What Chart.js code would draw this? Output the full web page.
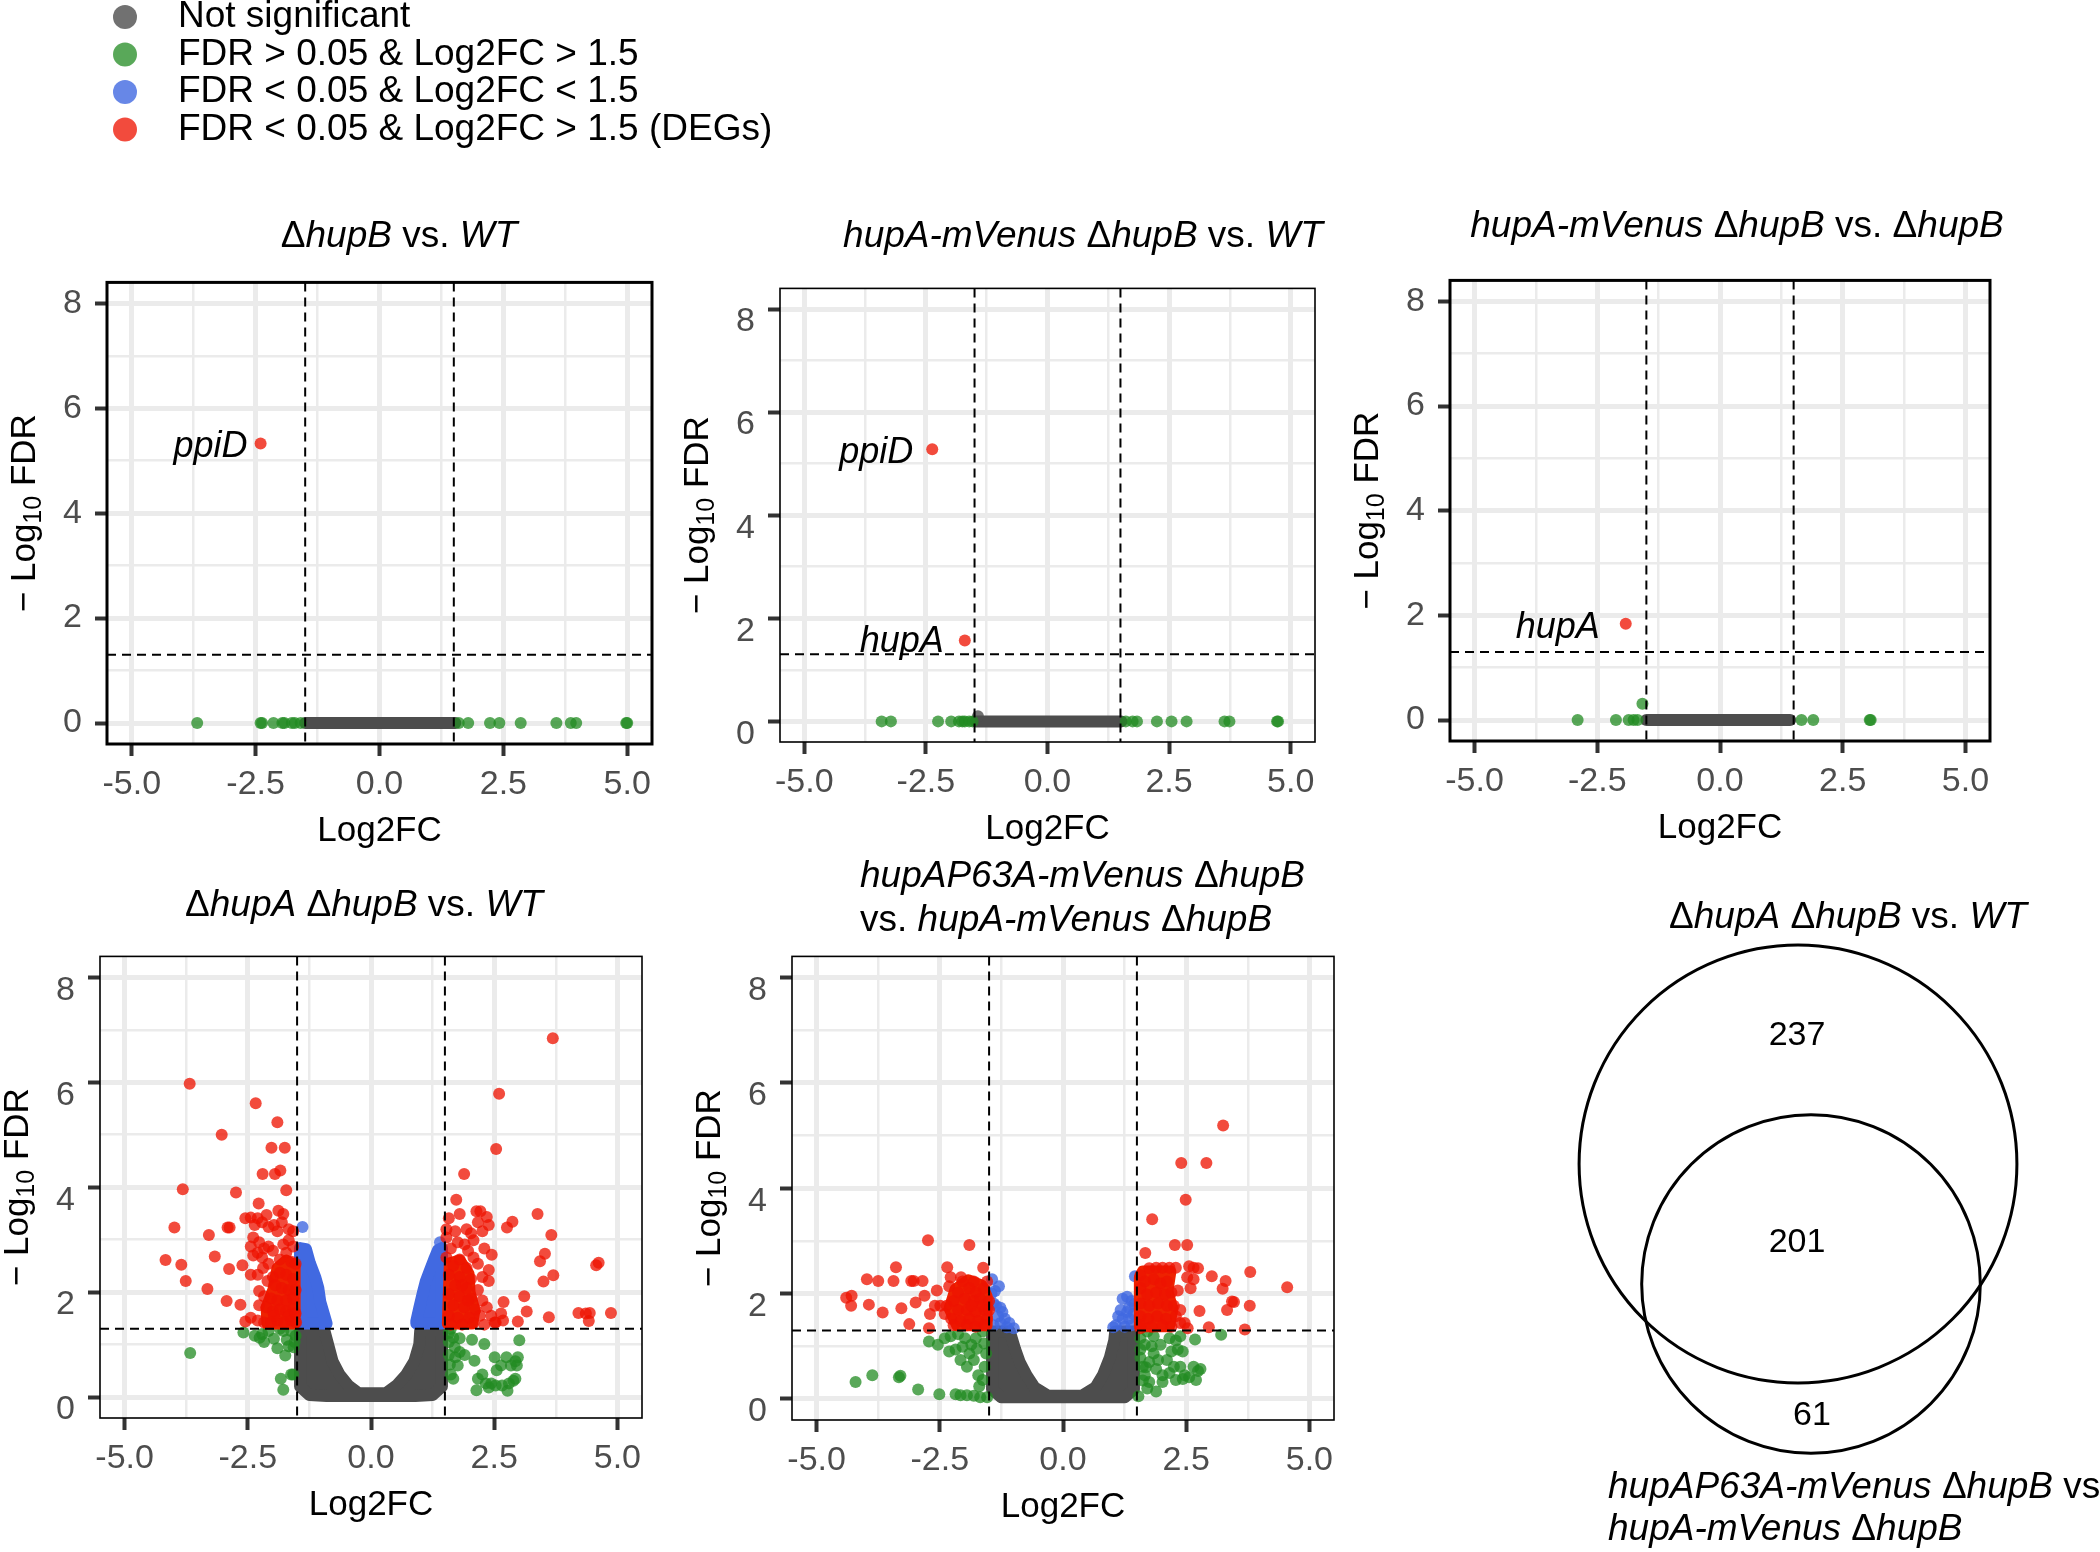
<!DOCTYPE html>
<html>
<head>
<meta charset="utf-8">
<title>Volcano plots</title>
<script src="https://cdn.jsdelivr.net/npm/chart.js@4"></script>
<style>
  html, body { margin: 0; padding: 0; background: #fff; }
  #page { position: relative; width: 2100px; height: 1552px; overflow: hidden; background: #fff; }
  #page canvas { position: absolute; }
  #overlay { left: 0; top: 0; z-index: 5; }
</style>
</head>
<body>
<div id="page"><canvas id="overlay" width="2100" height="1552"></canvas></div>
<script>
// ---------- data ----------
const categories = ['Not significant', 'FDR > 0.05 & Log2FC > 1.5', 'FDR < 0.05 & Log2FC < 1.5', 'FDR < 0.05 & Log2FC > 1.5 (DEGs)'];
const xTicksMajor = [-5, -2.5, 0, 2.5, 5];
const xTicksMinor = [-3.75, -1.25, 1.25, 3.75];
const yTicksMajor = [0, 2, 4, 6, 8];
const yTicksMinor = [1, 3, 5, 7];
const fcCut = 1.5;
const fdrCut = 1.301; // -log10(0.05)

// panel 1: ΔhupB vs. WT
const p1Band = [[-1.50, 0], [1.53, 0]]; // thousands of overlapping non-significant genes
const p1Green = [[-3.68,0],[-2.40,0],[-2.37,0],[-2.14,0],[-1.96,0],[-1.92,0],[-1.77,0],[-1.71,0],[-1.59,0],[1.60,0],[1.79,0],[2.23,0],[2.42,0],[2.85,0],[3.57,0],[3.86,0],[3.97,0],[4.98,0],[5.0,0]];
const p1Red = [[-2.40, 5.33]];
const p1Labels = [['ppiD', -2.40, 5.33]];

// panel 2: hupA-mVenus ΔhupB vs. WT
const p2Band = [[-1.48, 0], [1.52, 0]];
const p2Gray = [[-1.43, 0.1]];
const p2Green = [[-3.41,0],[-3.22,0],[-2.25,0],[-1.98,0],[-1.82,0],[-1.75,0],[-1.70,0],[-1.61,0],[-1.54,0],[1.61,0],[1.75,0],[1.84,0],[2.25,0],[2.55,0],[2.86,0],[3.64,0],[3.74,0],[4.72,0],[4.74,0]];
const p2Red = [[-2.37, 5.28], [-1.70, 1.57]];
const p2Labels = [['ppiD', -2.37, 5.28], ['hupA', -1.70, 1.57]];

// panel 3: hupA-mVenus ΔhupB vs. ΔhupB
const p3Band = [[-1.50, 0], [1.43, 0]];
const p3Green = [[-2.90,0],[-2.12,0],[-1.86,0],[-1.76,0],[-1.68,0],[-1.58,0.31],[1.66,0],[1.90,0],[3.05,0],[3.07,0]];
const p3Red = [[-1.92, 1.84]];
const p3Labels = [['hupA', -1.92, 1.84]];

// panel 4: ΔhupA ΔhupB vs. WT
const p4GrayCloud = [[-1.44,1.28],[-0.95,1.28],[-0.87,1.00],[-0.78,0.68],[-0.64,0.43],[-0.46,0.22],[-0.25,0.07],[0.30,0.07],[0.52,0.22],[0.72,0.43],[0.88,0.68],[0.98,1.00],[1.00,1.28],[1.44,1.28],[1.44,0.20],[1.25,0.04],[0.90,0.02],[-0.90,0.02],[-1.25,0.04],[-1.44,0.20],[-1.44,1.28]];
const p4BlueCloudL = [[-1.44,1.40],[-1.44,2.84],[-1.32,2.82],[-1.24,2.55],[-1.13,2.28],[-1.07,2.08],[-1.03,1.82],[-0.95,1.56],[-0.90,1.40],[-1.44,1.40]];
const p4BlueCloudR = [[1.44,1.40],[1.44,2.84],[1.36,2.80],[1.28,2.62],[1.19,2.40],[1.11,2.20],[1.05,1.98],[0.98,1.70],[0.92,1.45],[0.92,1.40],[1.44,1.40]];
const p4Blue = [[-1.39,3.24],[1.40,2.95]];
const p4RedCloudL = [[-1.55,1.40],[-2.10,1.40],[-2.12,1.70],[-1.98,2.05],[-1.90,2.45],[-1.72,2.60],[-1.55,2.50],[-1.55,1.40]];
const p4RedCloudR = [[1.56,1.40],[2.05,1.40],[2.10,1.65],[2.00,2.00],[1.98,2.35],[1.80,2.60],[1.60,2.55],[1.56,1.40]];
const p4Red = [
  [-3.68,5.97],[-2.34,5.60],[-1.90,5.24],[-3.03,5.00],[-2.02,4.75],[-1.75,4.75],[-1.84,4.32],[-2.20,4.25],[-1.95,4.25],[-3.82,3.96],[-2.74,3.90],[-1.72,3.94],[-2.28,3.69],[-3.99,3.23],[-3.29,3.09],[-2.91,3.23],[-2.87,3.23],[-3.17,2.68],[-4.17,2.61],[-3.85,2.52],[-2.88,2.44],[-2.61,2.51],[-3.76,2.21],[-3.32,2.06],[-2.93,1.83],[-2.65,1.76],
  [-2.55,3.41],[-2.44,3.42],[-2.30,3.41],[-2.36,3.28],[-2.21,3.33],[-2.12,3.47],[-1.88,3.55],[-1.78,3.49],[-1.81,3.33],[-1.97,3.28],[-2.08,3.24],[-1.67,3.20],[-1.58,3.16],[-1.90,3.16],[-2.39,3.04],[-2.27,2.95],[-2.44,2.87],[-2.17,2.83],[-2.08,2.87],[-1.99,2.79],[-2.30,2.75],[-2.39,2.70],[-2.21,2.66],[-1.78,2.91],[-1.67,2.99],[-1.58,2.87],[-1.72,2.75],[-1.85,2.62],[-1.62,2.58],[-1.53,2.54],[-2.08,2.54],[-2.19,2.46],[-2.44,2.33],[-2.30,2.33],[-1.99,2.29],[-1.85,2.37],[-1.72,2.33],[-1.58,2.25],[-2.10,2.21],[-1.94,2.13],[-1.81,2.08],[-1.67,2.04],[-1.53,2.04],[-2.27,2.02],[-2.17,1.92],[-2.03,1.88],[-1.90,1.84],[-1.72,1.84],[-1.58,1.88],[-2.27,1.75],[-2.12,1.71],[-1.99,1.63],[-1.85,1.67],[-1.72,1.63],[-1.58,1.67],[-2.44,1.51],[-2.30,1.46],[-2.17,1.42],[-2.03,1.42],[-1.90,1.46],[-1.76,1.42],[-1.62,1.46],[-1.52,1.42],[-1.97,1.55],[-1.67,1.55],[-1.53,1.59],[-2.55,1.44],
  [3.69,6.84],[2.60,5.78],[2.54,4.73],[1.89,4.25],[1.73,3.76],[1.80,3.49],[3.38,3.49],[2.87,3.34],[2.76,3.23],[3.66,3.09],[2.45,2.71],[3.53,2.73],[3.43,2.59],[4.57,2.51],[4.62,2.56],[3.70,2.32],[3.50,2.20],[3.11,1.92],[2.69,1.81],[3.16,1.63],[2.64,1.59],[3.61,1.52],[2.98,1.44],[4.21,1.60],[4.36,1.59],[4.44,1.60],[4.42,1.45],[4.87,1.60],[2.53,1.42],[2.68,1.46],
  [1.53,3.20],[1.53,3.04],[1.58,3.41],[1.71,3.16],[1.94,3.20],[2.03,3.12],[2.14,3.54],[2.22,3.54],[2.35,3.43],[2.39,3.28],[2.26,3.16],[2.17,3.33],[2.08,2.99],[1.90,2.91],[1.76,2.95],[1.62,2.83],[1.53,2.66],[1.97,2.79],[2.30,2.83],[2.08,2.66],[1.80,2.62],[1.67,2.50],[1.94,2.46],[2.17,2.54],[2.39,2.42],[1.58,2.33],[1.80,2.29],[2.03,2.25],[2.26,2.29],[1.71,2.13],[1.94,2.08],[2.17,2.04],[2.39,2.21],[1.58,1.96],[1.80,1.92],[2.03,1.88],[2.26,1.84],[1.67,1.75],[1.89,1.71],[2.12,1.67],[2.35,1.71],[1.58,1.55],[1.76,1.51],[1.99,1.51],[2.21,1.55],[2.44,1.55],[1.62,1.38],[1.85,1.38],[2.08,1.41],[2.30,1.38],[2.51,1.42],[1.85,2.13],[1.97,1.84]
];
const p4Green = [
  [-3.67,0.84],[-2.59,1.23],[-2.36,1.17],[-2.26,1.13],[-2.17,1.05],[-2.08,1.26],[-1.97,1.11],[-1.85,1.30],[-1.78,1.26],[-1.71,1.09],[-1.67,0.97],[-1.90,0.93],[-1.74,0.79],[-1.58,0.43],[-1.62,0.43],[-1.83,0.35],[-1.78,0.14],[-1.62,1.26],[-1.53,1.17],[-2.21,1.20],[-1.57,0.95],[-1.55,1.05],
  [1.62,1.30],[1.67,1.13],[1.58,1.05],[1.80,1.12],[2.05,1.09],[2.30,1.01],[3.01,1.08],[1.58,0.80],[1.71,0.76],[1.80,0.86],[1.90,0.80],[2.10,0.69],[1.76,0.60],[1.62,0.43],[1.67,0.35],[2.17,0.35],[2.26,0.43],[2.14,0.13],[2.33,0.26],[2.44,0.26],[2.55,0.51],[2.51,0.76],[2.64,0.60],[2.75,0.76],[2.84,0.60],[2.93,0.68],[2.98,0.76],[2.96,0.60],[2.53,0.22],[2.66,0.22],[2.80,0.26],[2.77,0.12],[2.89,0.31],[2.93,0.35],[2.39,0.18],[1.58,1.22],[1.70,0.95],[1.60,0.62]
];

// panel 5: hupAP63A-mVenus ΔhupB vs. hupA-mVenus ΔhupB
const p5GrayCloud = [[-1.44,1.28],[-1.08,1.28],[-0.97,0.94],[-0.88,0.70],[-0.74,0.45],[-0.58,0.22],[-0.30,0.06],[0.38,0.06],[0.66,0.22],[0.81,0.45],[0.95,0.78],[1.04,1.11],[1.06,1.28],[1.44,1.28],[1.44,0.18],[1.25,0.03],[-1.25,0.03],[-1.44,0.18],[-1.44,1.28]];
const p5Blue = [
  [-1.44,2.27],[-1.30,2.14],[-1.36,1.77],[-1.27,1.73],[-1.23,1.65],[-1.18,1.52],[-1.09,1.44],[-1.27,1.44],[-1.00,1.34],[-1.41,1.40],[-1.14,1.36],[-1.32,1.57],[-1.41,1.81],[-1.45,2.00],[-1.38,2.05],
  [1.21,1.90],[1.30,1.94],[1.46,2.33],[1.34,1.73],[1.12,1.57],[1.21,1.52],[1.34,1.52],[1.07,1.40],[1.25,1.37],[1.39,1.40],[1.43,1.61],[1.30,1.65],[1.39,1.86],[1.17,1.69],[1.02,1.36],[1.45,1.80]
];
const p5RedCloudL = [[-1.55,1.40],[-2.15,1.40],[-2.30,1.72],[-2.18,2.08],[-1.92,2.25],[-1.65,2.15],[-1.55,1.95],[-1.55,1.40]];
const p5RedCloudR = [[1.56,1.38],[2.15,1.38],[2.22,1.70],[2.12,2.05],[2.18,2.42],[1.62,2.42],[1.56,2.30],[1.56,1.38]];
const p5Red = [
  [3.25,5.19],[2.40,4.48],[2.91,4.48],[2.49,3.78],[1.81,3.41],[2.27,2.92],[2.52,2.92],[1.67,2.77],[3.80,2.41],[3.02,2.33],[3.30,2.24],[4.55,2.12],[3.24,2.09],[3.47,1.84],[3.43,1.85],[3.79,1.77],[3.33,1.69],[2.77,1.67],[2.47,1.44],[2.53,1.34],[2.96,1.36],[3.69,1.32],[2.59,2.10],[2.56,2.52],[2.65,2.49],[2.74,2.48],[2.52,2.31],[2.65,2.27],
  [-2.74,3.01],[-1.90,2.92],[-3.39,2.50],[-2.35,2.50],[-1.62,2.49],[-3.98,2.27],[-3.75,2.24],[-3.44,2.24],[-3.08,2.24],[-3.03,2.24],[-2.85,2.24],[-2.56,2.06],[-2.81,1.96],[-2.99,1.83],[-4.40,1.92],[-4.29,1.96],[-4.30,1.77],[-3.94,1.79],[-3.28,1.72],[-3.66,1.64],[-3.12,1.42],[-2.72,1.34],[-2.70,1.61],
  [-2.31,2.14],[-2.28,2.31],[-2.07,2.31],[-2.04,2.23],[-1.81,2.23],[-1.90,2.10],[-1.77,2.02],[-2.13,2.02],[-2.49,1.77],[-2.60,1.77],[-2.36,1.77],[-2.22,1.86],[-1.99,1.90],[-1.81,1.86],[-1.68,1.90],[-1.61,2.10],[-1.54,2.23],[-2.13,1.69],[-1.95,1.69],[-1.77,1.65],[-1.59,1.69],[-2.40,1.61],[-2.27,1.52],[-2.08,1.48],[-1.90,1.52],[-1.72,1.48],[-1.54,1.52],[-2.22,1.40],[-1.95,1.40],[-1.77,1.37],[-1.59,1.40],[-1.63,1.77],[-1.86,1.77],[-1.50,1.86],[-1.50,1.69],
  [1.75,2.48],[1.89,2.49],[2.02,2.49],[2.16,2.49],[2.29,2.49],[1.57,2.35],[1.66,2.23],[1.84,2.27],[1.98,2.19],[2.11,2.23],[1.57,2.10],[1.71,1.98],[1.89,2.02],[2.07,1.98],[2.20,2.02],[1.57,1.81],[1.75,1.77],[1.93,1.81],[2.11,1.77],[2.25,1.77],[1.57,1.57],[1.73,1.52],[1.91,1.57],[2.09,1.52],[2.29,1.57],[1.57,1.40],[1.80,1.37],[2.02,1.40],[2.20,1.37],[2.38,1.69],[2.38,1.44],[1.57,1.34],[2.33,2.06]
];
const p5Green = [
  [-4.21,0.32],[-3.87,0.45],[-3.33,0.41],[-3.30,0.44],[-2.94,0.18],[-2.51,0.09],[-2.18,0.09],[-2.08,0.07],[-1.95,0.07],[-1.81,0.06],[-1.68,0.03],[-1.54,0.03],
  [-2.72,1.09],[-2.54,1.03],[-2.40,1.15],[-2.28,1.19],[-2.13,1.23],[-1.99,1.15],[-1.86,1.03],[-1.77,1.15],[-1.63,1.28],[-2.31,0.90],[-2.18,0.94],[-2.04,0.99],[-2.08,0.74],[-1.95,0.61],[-1.81,0.74],[-1.72,0.45],[-1.63,0.36],[-1.59,0.61],[-1.56,0.86],[-1.70,0.24],[-1.90,0.86],[-1.60,1.05],[-1.75,0.95],
  [3.21,1.22],[2.68,1.13],[1.53,0.05],[1.89,0.14],[1.75,0.32],[1.66,0.45],[1.62,0.61],[1.57,0.78],[1.57,0.94],[1.57,1.15],[1.71,1.28],[1.84,1.19],[1.98,1.03],[1.84,0.86],[1.75,0.70],[1.89,0.57],[2.02,0.45],[2.16,0.49],[2.25,0.61],[2.20,0.90],[2.11,0.74],[2.29,1.11],[2.38,1.19],[2.33,0.94],[2.43,0.90],[2.38,0.61],[2.47,0.45],[2.56,0.41],[2.65,0.61],[2.74,0.53],[2.79,0.57],[2.70,0.36],[2.43,0.38],[2.29,0.36],[2.02,0.32],[1.71,0.20],[1.93,0.74],[1.66,1.03],[2.16,1.15],[1.62,0.35],[1.68,0.60],[1.80,1.00]
];

// Venn: DEG counts per region
const vennSets = ['ΔhupA ΔhupB vs. WT', 'hupAP63A-mVenus ΔhupB vs. hupA-mVenus ΔhupB'];
const vennRegionCounts = [237, 201, 61]; // only set 1, both, only set 2

// ---------- drawing ----------
const FONT = '"Liberation Sans", Arial, Helvetica, sans-serif';
Chart.defaults.font.family = FONT;
const AX_W = 120, AX_H = 110, PAD_T = 30, PAD_R = 40;
const page = document.getElementById('page');

const COL = {
  gray: 'rgba(77,77,77,0.8)', grayDense: '#4d4d4d',
  green: 'rgba(34,139,34,0.75)',
  blue: 'rgba(65,105,225,0.8)', blueDense: '#4169e1',
  red: 'rgba(238,18,0,0.76)', redDense: '#ee2200'
};
const legendColors = [COL.gray, COL.green, COL.blue, COL.red];

const xy = arr => arr.map(p => ({x: p[0], y: p[1]}));

function cloud(points, color, order, filled) {
  return {type: 'line', data: xy(points), showLine: true, fill: filled ? 'shape' : false,
    backgroundColor: color, borderColor: color, borderWidth: 12,
    borderJoinStyle: 'round', borderCapStyle: 'round', pointRadius: 0, tension: 0, order};
}
function dots(points, color, order) {
  return {type: 'scatter', data: xy(points), backgroundColor: color, borderWidth: 0,
    pointBorderWidth: 0, pointRadius: 6, order};
}

const isIn = (list, v) => list.some(t => Math.abs(t - v) < 1e-9);

function axisX() {
  return {
    type: 'linear', min: -5.5, max: 5.5,
    afterBuildTicks: s => { s.ticks = xTicksMajor.concat(xTicksMinor).sort((a, b) => a - b).map(v => ({value: v})); },
    afterFit: s => { s.height = AX_H; },
    ticks: {autoSkip: false, maxRotation: 0, padding: 8, color: '#4d4d4d', font: {size: 34},
      callback: v => isIn(xTicksMajor, v) ? v.toFixed(1) : ''},
    grid: {color: '#ebebeb', lineWidth: c => isIn(xTicksMajor, c.tick.value) ? 5 : 2.5,
      tickColor: c => isIn(xTicksMajor, c.tick.value) ? '#333' : 'rgba(0,0,0,0)', tickWidth: 4, tickLength: 12},
    border: {display: false}
  };
}
function axisY(labelOffset) {
  return {
    type: 'linear', min: -0.4, max: 8.4,
    afterBuildTicks: s => { s.ticks = yTicksMajor.concat(yTicksMinor).sort((a, b) => a - b).map(v => ({value: v})); },
    afterFit: s => { s.width = AX_W; },
    ticks: {autoSkip: false, padding: 13, labelOffset, color: '#4d4d4d', font: {size: 34},
      callback: v => isIn(yTicksMajor, v) ? String(v) : ''},
    grid: {color: '#ebebeb', lineWidth: c => isIn(yTicksMajor, c.tick.value) ? 5 : 2.5,
      tickColor: c => isIn(yTicksMajor, c.tick.value) ? '#333' : 'rgba(0,0,0,0)', tickWidth: 4, tickLength: 12},
    border: {display: false}
  };
}

function drawSegs(ctx, segs, x, y, align) {
  // segs: [text, italic, size, dy]
  let w = 0;
  segs.forEach(s => { ctx.font = (s[1] ? 'italic ' : '') + s[2] + 'px ' + FONT; w += ctx.measureText(s[0]).width; });
  let cx = align === 'center' ? x - w / 2 : x;
  ctx.textAlign = 'left';
  segs.forEach(s => {
    ctx.font = (s[1] ? 'italic ' : '') + s[2] + 'px ' + FONT;
    ctx.fillText(s[0], cx, y + (s[3] || 0));
    cx += ctx.measureText(s[0]).width;
  });
}

function decor(p) {
  return {
    id: 'decor',
    afterDatasetsDraw(chart) {
      const {ctx, chartArea: a} = chart;
      const x = chart.scales.x, y = chart.scales.y;
      ctx.save();
      ctx.strokeStyle = '#000';
      ctx.lineWidth = 2;
      ctx.setLineDash([9, 6]);
      ctx.beginPath();
      [-fcCut, fcCut].forEach(v => { const px = x.getPixelForValue(v); ctx.moveTo(px, a.top); ctx.lineTo(px, a.bottom); });
      const py = y.getPixelForValue(fdrCut);
      ctx.moveTo(a.left, py); ctx.lineTo(a.right, py);
      ctx.stroke();
      ctx.setLineDash([]);
      ctx.fillStyle = '#000';
      ctx.font = 'italic 36px ' + FONT;
      ctx.textAlign = 'right';
      ctx.textBaseline = 'middle';
      (p.labels || []).forEach((l, i) => {
        const s = p.labelShift[i];
        ctx.fillText(l[0], x.getPixelForValue(l[1]) + s[0], y.getPixelForValue(l[2]) + s[1]);
      });
      ctx.lineWidth = p.border;
      ctx.strokeRect(a.left, a.top, a.right - a.left, a.bottom - a.top);
      // axis titles
      ctx.font = '35px ' + FONT;
      ctx.textAlign = 'center';
      ctx.fillText('Log2FC', (a.left + a.right) / 2, a.bottom + 87);
      ctx.translate(a.left - 82, (a.top + a.bottom) / 2);
      ctx.rotate(-Math.PI / 2);
      drawSegs(ctx, [['\u2212 Log', 0, 35], ['10', 0, 25, 9], [' FDR', 0, 35]], 0, 0, 'center');
      ctx.restore();
    }
  };
}

function volcano(p) {
  const f = p.frame;
  const cv = document.createElement('canvas');
  const W = f.r - f.l + AX_W + PAD_R, H = f.b - f.t + PAD_T + AX_H;
  cv.width = W; cv.height = H;
  cv.style.left = (f.l - AX_W) + 'px';
  cv.style.top = (f.t - PAD_T) + 'px';
  cv.style.width = W + 'px';
  cv.style.height = H + 'px';
  page.insertBefore(cv, document.getElementById('overlay'));
  const ds = [];
  if (p.band) ds.push(cloud(p.band, COL.grayDense, 20, false));
  if (p.grayCloud) ds.push(cloud(p.grayCloud, COL.grayDense, 20, true));
  if (p.gray) ds.push(dots(p.gray, COL.gray, 19));
  ds.push(dots(p.green, COL.green, 18));
  (p.blueClouds || []).forEach(c => ds.push(cloud(c, COL.blueDense, 17, true)));
  if (p.blue) ds.push(dots(p.blue, COL.blue, 16));
  (p.redClouds || []).forEach(c => ds.push(cloud(c, COL.redDense, 15, true)));
  ds.push(dots(p.red, COL.red, 14));
  new Chart(cv, {
    type: 'scatter',
    data: {datasets: ds},
    options: {
      responsive: false, animation: false, devicePixelRatio: 1, events: [],
      layout: {padding: {left: 0, top: PAD_T, right: PAD_R, bottom: 0}},
      plugins: {legend: {display: false}, tooltip: {enabled: false}},
      scales: {x: axisX(), y: axisY(p.yLabelOffset)}
    },
    plugins: [decor(p)]
  });
}

volcano({frame: {l: 107, t: 279, r: 652, b: 744}, border: 3, yLabelOffset: 0,
  band: p1Band, green: p1Green, red: p1Red, labels: p1Labels, labelShift: [[-13, 4]]});
volcano({frame: {l: 780, t: 285, r: 1315, b: 742}, border: 1.6, yLabelOffset: 13,
  band: p2Band, gray: p2Gray, green: p2Green, red: p2Red, labels: p2Labels, labelShift: [[-19, 4], [-21, 2]]});
volcano({frame: {l: 1450, t: 277, r: 1990, b: 741}, border: 3, yLabelOffset: 0,
  band: p3Band, green: p3Green, red: p3Red, labels: p3Labels, labelShift: [[-26, 4]]});
volcano({frame: {l: 100, t: 953, r: 642, b: 1418}, border: 1.6, yLabelOffset: 13,
  grayCloud: p4GrayCloud, green: p4Green, blueClouds: [p4BlueCloudL, p4BlueCloudR], blue: p4Blue,
  redClouds: [p4RedCloudL, p4RedCloudR], red: p4Red});
volcano({frame: {l: 792, t: 953, r: 1334, b: 1420}, border: 1.6, yLabelOffset: 13,
  grayCloud: p5GrayCloud, green: p5Green, blue: p5Blue,
  redClouds: [p5RedCloudL, p5RedCloudR], red: p5Red});

// Venn diagram: circle areas proportional to set sizes
const vennBox = {left: 1540, top: 900, width: 560, height: 600};
const vennCenters = [[1798, 1164], [1811, 1284]];
const vennK = 10.46;
const setTotals = [vennRegionCounts[0] + vennRegionCounts[1], vennRegionCounts[1] + vennRegionCounts[2]];
(function () {
  const cv = document.createElement('canvas');
  cv.width = vennBox.width; cv.height = vennBox.height;
  cv.style.left = vennBox.left + 'px'; cv.style.top = vennBox.top + 'px';
  cv.style.width = vennBox.width + 'px'; cv.style.height = vennBox.height + 'px';
  page.insertBefore(cv, document.getElementById('overlay'));
  new Chart(cv, {
    type: 'bubble',
    data: {datasets: setTotals.map((t, i) => ({
      data: [{x: vennCenters[i][0] - vennBox.left, y: vennCenters[i][1] - vennBox.top, r: vennK * Math.sqrt(t)}],
      backgroundColor: 'rgba(0,0,0,0)', borderColor: '#000', borderWidth: 3, clip: false
    }))},
    options: {
      responsive: false, animation: false, devicePixelRatio: 1, events: [],
      layout: {padding: 0, autoPadding: false},
      plugins: {legend: {display: false}, tooltip: {enabled: false}},
      scales: {
        x: {type: 'linear', min: 0, max: vennBox.width, display: false},
        y: {type: 'linear', min: 0, max: vennBox.height, reverse: true, display: false}
      }
    }
  });
})();

// ---------- overlay texts: legend, titles, Venn labels ----------
(function () {
  const ctx = document.getElementById('overlay').getContext('2d');
  ctx.textBaseline = 'middle';
  const rowY = [17, 54.5, 92, 129.5];
  categories.forEach((c, i) => {
    ctx.fillStyle = legendColors[i];
    ctx.beginPath(); ctx.arc(125, rowY[i], 12, 0, Math.PI * 2); ctx.fill();
    ctx.fillStyle = '#000';
    ctx.font = '37px ' + FONT;
    ctx.textAlign = 'left';
    ctx.fillText(c, 178, rowY[i]);
  });
  ctx.fillStyle = '#000';
  const T = 37;
  drawSegs(ctx, [['Δ', 0, T], ['hupB', 1, T], [' vs. ', 0, T], ['WT', 1, T]], 399, 237, 'center');
  drawSegs(ctx, [['hupA-mVenus', 1, T], [' Δ', 0, T], ['hupB', 1, T], [' vs. ', 0, T], ['WT', 1, T]], 1083, 237, 'center');
  drawSegs(ctx, [['hupA-mVenus', 1, T], [' Δ', 0, T], ['hupB', 1, T], [' vs. Δ', 0, T], ['hupB', 1, T]], 1737, 227, 'center');
  drawSegs(ctx, [['Δ', 0, T], ['hupA', 1, T], [' Δ', 0, T], ['hupB', 1, T], [' vs. ', 0, T], ['WT', 1, T]], 364, 906, 'center');
  drawSegs(ctx, [['hupAP63A-mVenus', 1, T], [' Δ', 0, T], ['hupB', 1, T]], 860, 877, 'left');
  drawSegs(ctx, [['vs. ', 0, T], ['hupA-mVenus', 1, T], [' Δ', 0, T], ['hupB', 1, T]], 860, 921, 'left');
  // Venn
  drawSegs(ctx, [['Δ', 0, T], ['hupA', 1, T], [' Δ', 0, T], ['hupB', 1, T], [' vs. ', 0, T], ['WT', 1, T]], 1848, 918, 'center');
  drawSegs(ctx, [['hupAP63A-mVenus', 1, T], [' Δ', 0, T], ['hupB', 1, T], [' vs.', 0, T]], 1608, 1488, 'left');
  drawSegs(ctx, [['hupA-mVenus', 1, T], [' Δ', 0, T], ['hupB', 1, T]], 1608, 1530, 'left');
  ctx.font = '34px ' + FONT;
  ctx.textAlign = 'center';
  const countPos = [[1797, 1036], [1797, 1243], [1812, 1416]];
  vennRegionCounts.forEach((n, i) => ctx.fillText(String(n), countPos[i][0], countPos[i][1]));
})();
</script>
</body>
</html>
